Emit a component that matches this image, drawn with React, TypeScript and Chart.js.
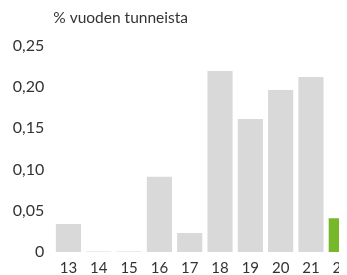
import React, { useEffect, useRef } from "react";
import { Chart, registerables } from "chart.js";

Chart.register(...registerables);

const categories = ["13", "14", "15", "16", "17", "18", "19", "20", "21", "22"];
const values = [0.034, 0.0007, 0.0007, 0.091, 0.023, 0.219, 0.161, 0.196, 0.212, 0.041];
const yTicks = [0, 0.05, 0.1, 0.15, 0.2, 0.25];
const titleText = "% vuoden tunneista";

const GRAY = "#d9d9d9";
const GREEN = "#76b82a";
const TEXT = "#333333";
const FONT = "Lato, 'Open Sans', sans-serif";

export default function App() {
  const ref = useRef<HTMLCanvasElement | null>(null);

  useEffect(() => {
    if (!ref.current) return;
    const colors = categories.map((_, i) => (i === categories.length - 1 ? GREEN : GRAY));
    const chart = new Chart(ref.current, {
      type: "bar",
      data: {
        labels: categories,
        datasets: [
          {
            data: values,
            backgroundColor: colors,
            borderWidth: 0,
            categoryPercentage: 1,
            barPercentage: 0.83,
          },
        ],
      },
      options: {
        responsive: false,
        animation: false,
        layout: { padding: { top: 0, right: 0, bottom: 0, left: 0 } },
        plugins: {
          legend: { display: false },
          tooltip: { enabled: false },
          title: {
            display: true,
            text: titleText,
            align: "start",
            fullSize: false,
            color: TEXT,
            font: { family: FONT, size: 15.5, weight: "normal" },
            padding: { top: 0.5, bottom: 18.4 },
          },
        },
        scales: {
          x: {
            grid: { display: false, drawTicks: false },
            border: { display: false },
            ticks: {
              color: TEXT,
              font: { family: FONT, size: 15 },
              padding: 7,
              maxRotation: 0,
              autoSkip: false,
            },
            afterFit: (scale: any) => {
              scale.height = 23;
            },
          },
          y: {
            min: 0,
            max: 0.25,
            grid: { display: false, drawTicks: false },
            border: { display: false },
            afterBuildTicks: (scale: any) => {
              scale.ticks = yTicks.map((v) => ({ value: v }));
            },
            ticks: {
              color: TEXT,
              font: { family: FONT, size: 16 },
              padding: 9,
              callback: (v: any) => (Number(v) === 0 ? "0" : Number(v).toFixed(2).replace(".", ",")),
            },
            afterFit: (scale: any) => {
              scale.width = 45.3;
            },
          },
        },
      },
    });
    return () => chart.destroy();
  }, []);

  return (
    <div style={{ width: 339, height: 267, overflow: "hidden", position: "relative" }}>
      <canvas ref={ref} width={349} height={267} style={{ display: "block" }} />
    </div>
  );
}
